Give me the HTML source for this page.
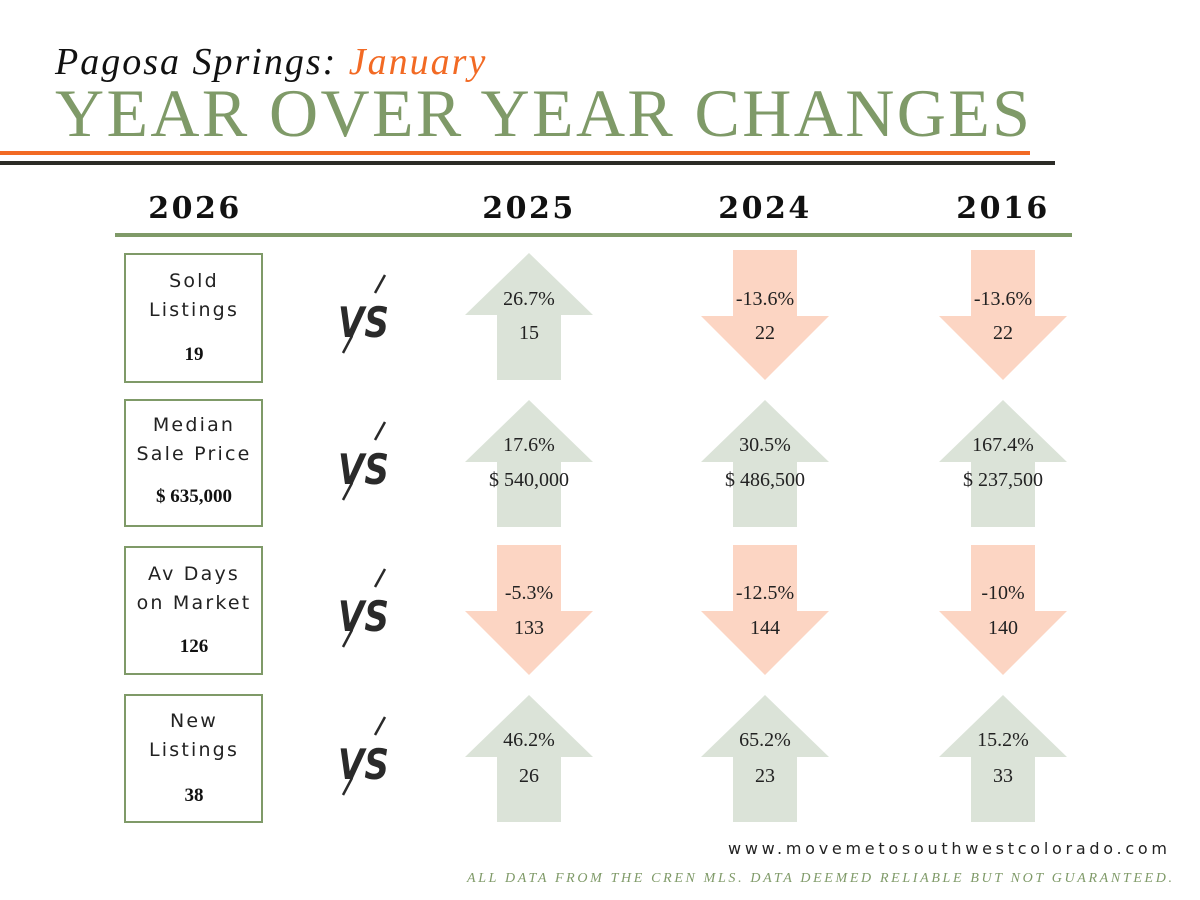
<!DOCTYPE html>
<html><head><meta charset="utf-8"><style>
html,body{margin:0;padding:0;background:#fff;width:1200px;height:900px;overflow:hidden}
svg{display:block}
.lbl{font-family:"DejaVu Sans","Liberation Sans",sans-serif;font-size:19px;letter-spacing:2.2px;fill:#222}
.val{font-family:"Liberation Serif","DejaVu Serif",serif;font-weight:bold;font-size:19px;fill:#111}
.num{font-family:"Liberation Serif","DejaVu Serif",serif;font-size:20px;fill:#222}
.yr{font-family:"DejaVu Serif","Liberation Serif",serif;font-weight:bold;font-size:30px;letter-spacing:2.5px;fill:#111}
.vs{font-family:"DejaVu Sans","Liberation Sans",sans-serif;font-weight:bold;font-style:italic;font-size:42px;fill:#2a2a2a}
</style></head><body>
<svg width="1200" height="900" viewBox="0 0 1200 900" xmlns="http://www.w3.org/2000/svg">
<text x="55" y="74" font-family="Liberation Serif,serif" font-style="italic" font-size="38" letter-spacing="2" fill="#111">Pagosa Springs: <tspan fill="#f26a24">January</tspan></text>
<text x="55" y="136" font-family="Liberation Serif,serif" font-size="68" fill="#7f9a68" textLength="975" lengthAdjust="spacing">YEAR OVER YEAR CHANGES</text>
<rect x="0" y="151" width="1030" height="4" fill="#f26a24"/>
<rect x="0" y="161" width="1055" height="4" fill="#2b2b26"/>
<g text-anchor="middle">
<text class="yr" x="195" y="218">2026</text>
<text class="yr" x="529" y="218">2025</text>
<text class="yr" x="765" y="218">2024</text>
<text class="yr" x="1003" y="218">2016</text>
</g>
<rect x="115" y="233" width="957" height="4" fill="#7f9a68"/>

<defs>
<polygon id="up" points="0,3 64,65 32,65 32,130 -32,130 -32,65 -64,65" fill="#dbe3d8"/>
<polygon id="dn" points="-32,0 32,0 32,66 64,66 0,130 -64,66 -32,66" fill="#fcd5c3"/>
<g id="vsg">
<line x1="385" y1="275" x2="375" y2="293" stroke="#2a2a2a" stroke-width="2.5"/>
<line x1="352" y1="336" x2="343" y2="353" stroke="#2a2a2a" stroke-width="2.5"/>
<text class="vs" x="338" y="337" textLength="51" lengthAdjust="spacingAndGlyphs">VS</text>
</g>
</defs>

<g fill="none" stroke="#7f9a68" stroke-width="2">
<rect x="125" y="254" width="137" height="128"/>
<rect x="125" y="400" width="137" height="126"/>
<rect x="125" y="547" width="137" height="127"/>
<rect x="125" y="695" width="137" height="127"/>
</g>
<g text-anchor="middle">
<text class="lbl" x="194" y="287">Sold</text><text class="lbl" x="194" y="316">Listings</text><text class="val" x="194" y="360">19</text>
<text class="lbl" x="194" y="431">Median</text><text class="lbl" x="194" y="460">Sale Price</text><text class="val" x="194" y="502">$ 635,000</text>
<text class="lbl" x="194" y="580">Av Days</text><text class="lbl" x="194" y="609">on Market</text><text class="val" x="194" y="652">126</text>
<text class="lbl" x="194" y="727">New</text><text class="lbl" x="194" y="756">Listings</text><text class="val" x="194" y="801">38</text>
</g>

<use href="#vsg"/>
<use href="#vsg" y="147"/>
<use href="#vsg" y="294"/>
<use href="#vsg" y="442"/>

<use href="#up" x="529" y="250"/><use href="#dn" x="765" y="250"/><use href="#dn" x="1003" y="250"/>
<use href="#up" x="529" y="397"/><use href="#up" x="765" y="397"/><use href="#up" x="1003" y="397"/>
<use href="#dn" x="529" y="545"/><use href="#dn" x="765" y="545"/><use href="#dn" x="1003" y="545"/>
<use href="#up" x="529" y="692"/><use href="#up" x="765" y="692"/><use href="#up" x="1003" y="692"/>

<g text-anchor="middle">
<text class="num" x="529" y="305">26.7%</text><text class="num" x="529" y="339">15</text>
<text class="num" x="765" y="305">-13.6%</text><text class="num" x="765" y="339">22</text>
<text class="num" x="1003" y="305">-13.6%</text><text class="num" x="1003" y="339">22</text>

<text class="num" x="529" y="451">17.6%</text><text class="num" x="529" y="486">$ 540,000</text>
<text class="num" x="765" y="451">30.5%</text><text class="num" x="765" y="486">$ 486,500</text>
<text class="num" x="1003" y="451">167.4%</text><text class="num" x="1003" y="486">$ 237,500</text>

<text class="num" x="529" y="599">-5.3%</text><text class="num" x="529" y="634">133</text>
<text class="num" x="765" y="599">-12.5%</text><text class="num" x="765" y="634">144</text>
<text class="num" x="1003" y="599">-10%</text><text class="num" x="1003" y="634">140</text>

<text class="num" x="529" y="746">46.2%</text><text class="num" x="529" y="782">26</text>
<text class="num" x="765" y="746">65.2%</text><text class="num" x="765" y="782">23</text>
<text class="num" x="1003" y="746">15.2%</text><text class="num" x="1003" y="782">33</text>
</g>

<text x="728" y="854" font-family="DejaVu Sans,Liberation Sans,sans-serif" font-size="16" fill="#222" textLength="439" lengthAdjust="spacing">www.movemetosouthwestcolorado.com</text>
<text x="467" y="882" font-family="Liberation Serif,serif" font-style="italic" font-size="14" fill="#7f9a68" textLength="705" lengthAdjust="spacing">ALL DATA FROM THE CREN MLS. DATA DEEMED RELIABLE BUT NOT GUARANTEED.</text>
</svg>
</body></html>
